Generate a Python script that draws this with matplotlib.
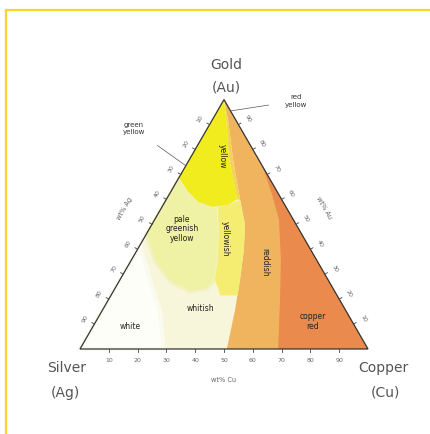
import numpy as np
import matplotlib
matplotlib.use('Agg')
import matplotlib.pyplot as plt
from matplotlib.patches import Polygon
from matplotlib.lines import Line2D

# ---------------- data (compositions as weight fractions: (Cu, Au)) ----------------
tick_values = [10, 20, 30, 40, 50, 60, 70, 80, 90]

base_region = [(0, 0), (1, 0), (0, 1)]
white_region = [(0, 0), (0.29, 0), (0.199, 0.157), (0.105, 0.277), (0.013, 0.398), (0, 0.42)]
reddish_boundary = [(0, 1), (0.054, 0.920), (0.152, 0.759), (0.257, 0.598), (0.324, 0.498),
                    (0.370, 0.398), (0.417, 0.277), (0.460, 0.157), (0.510, 0.0)]
copper_red_boundary = [(0.269, 0.731), (0.358, 0.618), (0.432, 0.518), (0.519, 0.357),
                       (0.596, 0.197), (0.688, 0.0)]
yellow_region = [(0, 1), (0, 0.687), (0.060, 0.631), (0.115, 0.590), (0.173, 0.570),
                 (0.225, 0.578), (0.246, 0.600), (0.135, 0.765), (0.045, 0.925)]
red_yellow_region = [(0, 1), (0.045, 0.925), (0.135, 0.765), (0.246, 0.600), (0.257, 0.598),
                     (0.152, 0.759), (0.054, 0.920)]
pale_region = [(0, 0.687), (0, 0.458), (0.086, 0.349), (0.178, 0.269), (0.267, 0.229),
               (0.321, 0.241), (0.330, 0.277), (0.300, 0.357), (0.244, 0.478), (0.194, 0.570),
               (0.173, 0.570), (0.115, 0.590), (0.060, 0.631)]
yellowish_region = [(0.194, 0.570), (0.225, 0.578), (0.257, 0.598), (0.324, 0.498), (0.370, 0.398),
                    (0.417, 0.277), (0.440, 0.215), (0.380, 0.215), (0.330, 0.277),
                    (0.300, 0.357), (0.244, 0.478)]

region_labels = ['yellow', 'yellowish', 'reddish', 'pale\ngreenish\nyellow', 'whitish', 'white',
                 'copper\nred']
region_label_pos = [(0.107, 0.773), (0.283, 0.441), (0.468, 0.348), (0.113, 0.482),
                    (0.336, 0.162), (0.129, 0.089), (0.754, 0.109)]
region_label_rot = [270, 270, 270, 0, 0, 0, 0]

# ---------------- helpers ----------------
S3 = np.sqrt(3) / 2


def tern(cu, au):
    return cu + au / 2.0, au * S3


def poly(points):
    return [tern(c, a) for c, a in points]


W, H = 431, 434
SC = 288.0  # pixels per unit
fig = plt.figure(figsize=(W / 100, H / 100), dpi=100)
ax = fig.add_axes([0, 0, 1, 1])
ax.set_xlim(-80 / SC, (W - 80) / SC)
ax.set_ylim(-(H - 349) / SC, 349 / SC)
ax.axis('off')

# ---------------- regions ----------------
ax.add_patch(Polygon(poly(base_region), closed=True, fc='#F7F5DA', ec='none', zorder=1))
ax.add_patch(Polygon(poly(white_region), closed=True, fc='#FEFEF8', ec='#FBFAEE', lw=3, zorder=2))
reddish = reddish_boundary + [(1, 0)]
ax.add_patch(Polygon(poly(reddish), closed=True, fc='#F0B45E', ec='none', zorder=2))
copper = copper_red_boundary + [(1, 0)]
ax.add_patch(Polygon(poly(copper), closed=True, fc='#EA8B4D', ec='none', zorder=3))
ax.add_patch(Polygon(poly(pale_region), closed=True, fc='#EFF1A4', ec='#F2F2BC', lw=2, zorder=3))
ax.add_patch(Polygon(poly(yellowish_region), closed=True, fc='#F5EC72', ec='none', zorder=3))
ax.add_patch(Polygon(poly(red_yellow_region), closed=True, fc='#F4D456', ec='none', zorder=3))
ax.add_patch(Polygon(poly(yellow_region), closed=True, fc='#F1EC1E', ec='none', zorder=4))

# triangle outline
ax.add_patch(Polygon(poly(base_region), closed=True, fc='none', ec='#333333', lw=0.9, zorder=6))

# ---------------- ticks & tick labels ----------------
tl = 3.0 / SC
off = 11.0 / SC
tick_col = '#666666'
nl = np.array([-S3, 0.5])   # outward normal of left edge
nr = np.array([S3, 0.5])    # outward normal of right edge
for v in tick_values:
    t = v / 100.0
    # bottom (Cu)
    x, y = tern(t, 0)
    ax.plot([x, x], [y, y - tl], color='#444444', lw=0.6, zorder=6)
    ax.text(x, y - off, str(v), fontsize=4.5, color=tick_col, ha='center', va='center')
    # left (Ag): Ag = t -> Au = 1 - t
    x, y = tern(0, 1 - t)
    ax.plot([x, x + nl[0] * tl], [y, y + nl[1] * tl], color='#444444', lw=0.6, zorder=6)
    ax.text(x + nl[0] * off, y + nl[1] * off, str(v), fontsize=4.5, color=tick_col,
            ha='center', va='center', rotation=60)
    # right (Au): Au = t
    x, y = tern(1 - t, t)
    ax.plot([x, x + nr[0] * tl], [y, y + nr[1] * tl], color='#444444', lw=0.6, zorder=6)
    ax.text(x + nr[0] * off, y + nr[1] * off, str(v), fontsize=4.5, color=tick_col,
            ha='center', va='center', rotation=-60)

# axis titles
x, y = tern(0.5, 0)
ax.text(x, y - 31 / SC, 'wt% Cu', fontsize=4.8, color=tick_col, ha='center', va='center')
x, y = tern(0, 0.5)
ax.text(x + nl[0] * 32 / SC, y + nl[1] * 32 / SC, 'wt% Ag', fontsize=4.8, color=tick_col,
        ha='center', va='center', rotation=60)
x, y = tern(0.5, 0.5)
ax.text(x + nr[0] * 32 / SC, y + nr[1] * 32 / SC, 'wt% Au', fontsize=4.8, color=tick_col,
        ha='center', va='center', rotation=-60)

# corner labels
cc = '#555555'
x, y = tern(0, 1)
ax.text(x + 2 / SC, y + 35 / SC, 'Gold', fontsize=10, color=cc, ha='center', va='center')
ax.text(x + 2 / SC, y + 12 / SC, '(Au)', fontsize=10, color=cc, ha='center', va='center')
x, y = tern(0, 0)
ax.text(x - 13 / SC, y - 19 / SC, 'Silver', fontsize=10, color=cc, ha='center', va='center')
ax.text(x - 15 / SC, y - 44 / SC, '(Ag)', fontsize=10, color=cc, ha='center', va='center')
x, y = tern(1, 0)
ax.text(x + 15 / SC, y - 19 / SC, 'Copper', fontsize=10, color=cc, ha='center', va='center')
ax.text(x + 17 / SC, y - 44 / SC, '(Cu)', fontsize=10, color=cc, ha='center', va='center')

# region labels
for lab, (c, a), r in zip(region_labels, region_label_pos, region_label_rot):
    x, y = tern(c, a)
    ax.text(x, y, lab, fontsize=5.5, color='#222222', ha='center', va='center',
            rotation=r, linespacing=1.1, zorder=8)

# annotations
x1, y1 = tern(0.048, 0.955)
ax.annotate('red\nyellow', xy=(x1, y1), xytext=(x1 + 65 / SC, y1 + 10 / SC), fontsize=5.0,
            color='#333333', ha='center', va='center', linespacing=1.3,
            arrowprops=dict(arrowstyle='-', color='#555555', lw=0.5, shrinkA=10, shrinkB=0))
x2, y2 = tern(0, 0.735)
ax.annotate('green\nyellow', xy=(x2, y2), xytext=(x2 - 52 / SC, y2 + 37 / SC), fontsize=5.0,
            color='#333333', ha='center', va='center', linespacing=1.3,
            arrowprops=dict(arrowstyle='-', color='#555555', lw=0.5, shrinkA=9, shrinkB=0))

# frame lines (top and left)
fig.add_artist(Line2D([6 / W, 6 / W], [0, 1 - 10 / H], transform=fig.transFigure,
                      color='#FFD22E', lw=1.6))
fig.add_artist(Line2D([6 / W, 1], [1 - 10 / H, 1 - 10 / H], transform=fig.transFigure,
                      color='#FFD22E', lw=1.6))

fig.savefig('out.png', dpi=100, facecolor='white')
